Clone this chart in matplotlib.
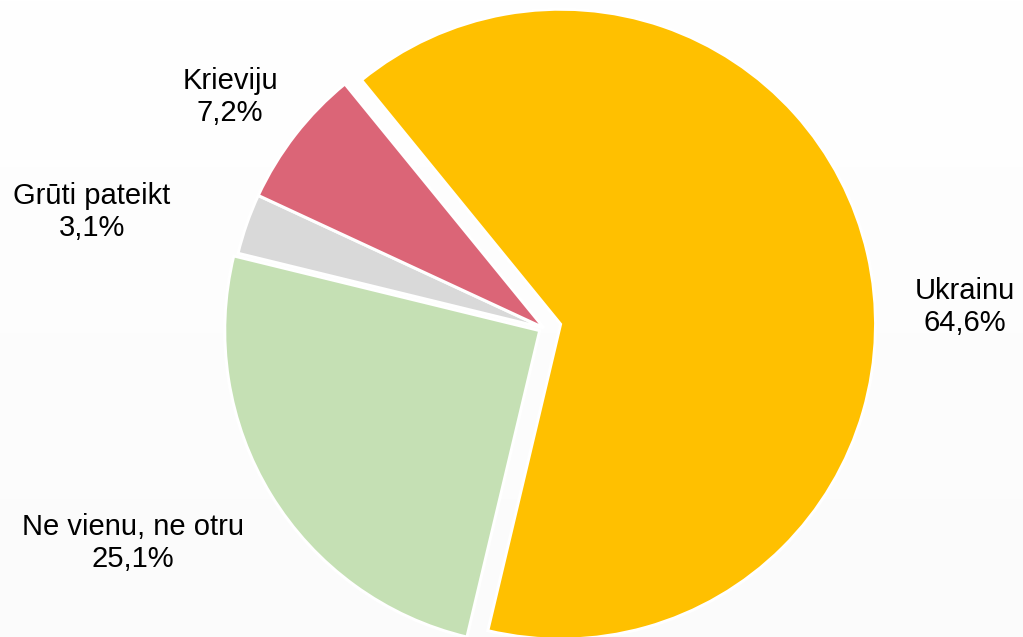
import matplotlib.pyplot as plt
import numpy as np

plt.rcParams['font.family'] = ['Liberation Sans', 'DejaVu Sans']

# Data
labels = ['Ukrainu', 'Ne vienu, ne otru', 'Grūti pateikt', 'Krieviju']
values = [64.6, 25.1, 3.1, 7.2]
colors = ['#FFC000', '#C5E0B4', '#D9D9D9', '#DB6577']
# explode offsets are in data units (pixels here)
explode = [17, 5, 0, 0]

# label positions (pixel coords, y from top)
label_pos = [(965, 307), (133, 543), (92, 212), (230, 97)]

fig = plt.figure(figsize=(10.23, 6.37), dpi=100)
ax = fig.add_axes([0, 0, 1, 1])

# subtle background gradient (white at top, light grey at bottom)
grad = np.linspace(1.0, 0.985, 256).reshape(-1, 1)
ax.imshow(np.dstack([grad, grad, grad]), extent=(0, 1023, 0, 637),
          aspect='auto', zorder=0)

cx, cy, r = 544, 637 - 328, 315
wedges, _ = ax.pie(values, colors=colors, explode=explode,
                   startangle=129.2, counterclock=False,
                   center=(cx, cy), radius=r,
                   wedgeprops=dict(edgecolor='white', linewidth=2.2))
for w in wedges:
    w.set_zorder(2)

for lab, v, (x, y) in zip(labels, values, label_pos):
    txt = f"{lab}\n{v:.1f}%".replace('.', ',')
    ax.text(x, 637 - y, txt, ha='center', va='center', fontsize=21,
            linespacing=1.15, color='black', zorder=3)

ax.set_xlim(0, 1023)
ax.set_ylim(0, 637)
ax.set_aspect('auto')
ax.axis('off')

fig.savefig('out.png', dpi=100)
plt.close(fig)
